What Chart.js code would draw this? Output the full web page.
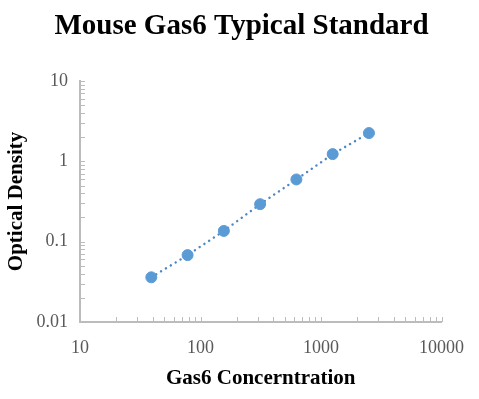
<!DOCTYPE html>
<html>
<head>
<meta charset="utf-8">
<script src="https://cdn.jsdelivr.net/npm/chart.js@4.4.0/dist/chart.umd.min.js"></script>
<style>
  html, body { margin: 0; padding: 0; background: #fff; }
  #wrap { width: 479px; height: 399px; }
</style>
</head>
<body>
<div id="wrap"><canvas id="chart"></canvas></div>
<script>
// Standard curve values
const concentrations = [39.06, 78.13, 156.25, 312.5, 625, 1250, 2500];
const opticalDensity = [0.036, 0.068, 0.136, 0.293, 0.595, 1.23, 2.25];

const xTicks = [10, 100, 1000, 10000];
const yTicks = [0.01, 0.1, 1, 10];
const yTickLabels = ['0.01', '0.1', '1', '10'];

const points = concentrations.map((c, i) => ({ x: c, y: opticalDensity[i] }));

const axisColor = '#bcbcbc';
const labelColor = '#595959';
const serif = '"Liberation Serif", "Times New Roman", serif';

// small inward ticks for each decade, like the original log axes
const minorTicks = {
  id: 'minorTicks',
  beforeDatasetsDraw(chart) {
    const { ctx, chartArea, scales: { x, y } } = chart;
    ctx.save();
    ctx.strokeStyle = axisColor;
    ctx.lineWidth = 1;
    ctx.beginPath();
    for (let d = 0; d < xTicks.length - 1; d++) {
      for (let m = 1; m <= 10; m++) {
        if (m === 1 && d > 0) continue;
        const px = Math.round(x.getPixelForValue(xTicks[d] * m)) + 0.5;
        ctx.moveTo(px, chartArea.bottom);
        ctx.lineTo(px, chartArea.bottom - 5);
      }
    }
    for (let d = 0; d < yTicks.length - 1; d++) {
      for (let m = 1; m <= 10; m++) {
        if (m === 1 && d > 0) continue;
        const py = Math.round(y.getPixelForValue(yTicks[d] * m)) + 0.5;
        ctx.moveTo(chartArea.left, py);
        ctx.lineTo(chartArea.left + 5, py);
      }
    }
    ctx.stroke();
    ctx.restore();
  }
};

new Chart(document.getElementById('chart'), {
  type: 'scatter',
  data: {
    datasets: [
      {
        label: 'Standard',
        data: points,
        backgroundColor: '#5b9bd5',
        borderColor: '#5b9bd5',
        pointRadius: 5.5,
        pointHoverRadius: 5.5,
        showLine: false,
        order: 1
      },
      {
        label: 'Trend',
        data: points,
        showLine: true,
        borderColor: '#4f87c4',
        borderWidth: 2.4,
        borderDash: [0.1, 5.6],
        borderCapStyle: 'round',
        pointRadius: 0,
        fill: false,
        order: 2
      }
    ]
  },
  options: {
    responsive: true,
    maintainAspectRatio: false,
    animation: false,
    layout: { padding: { left: 4, right: 0, top: 0, bottom: 0 } },
    plugins: {
      legend: { display: false },
      tooltip: { enabled: false },
      title: {
        display: true,
        text: 'Mouse Gas6 Typical Standard',
        color: '#000',
        font: { family: serif, size: 29, weight: 'bold' },
        padding: { top: 9.5, bottom: 36.7 }
      }
    },
    scales: {
      x: {
        type: 'logarithmic',
        min: 10,
        max: 10000,
        afterBuildTicks: (scale) => { scale.ticks = xTicks.map(v => ({ value: v })); },
        afterFit: (scale) => { scale.height = 77; },
        grid: { display: false, drawTicks: false },
        border: { display: true, color: axisColor, width: 2 },
        ticks: {
          color: labelColor,
          padding: 15,
          maxRotation: 0,
          autoSkip: false,
          font: { family: serif, size: 18 },
          callback: (v) => String(v)
        },
        title: {
          display: true,
          text: 'Gas6 Concerntration',
          color: '#000',
          font: { family: serif, size: 21, weight: 'bold' },
          padding: { top: 0, bottom: 8 }
        }
      },
      y: {
        type: 'logarithmic',
        min: 0.01,
        max: 10,
        afterBuildTicks: (scale) => { scale.ticks = yTicks.map(v => ({ value: v })); },
        afterFit: (scale) => { scale.width = 76; },
        grid: { display: false, drawTicks: false },
        border: { display: true, color: axisColor, width: 2 },
        ticks: {
          color: labelColor,
          padding: 12,
          autoSkip: false,
          font: { family: serif, size: 18 },
          callback: (v) => yTickLabels[yTicks.indexOf(v)] ?? ''
        },
        title: {
          display: true,
          text: 'Optical Density',
          color: '#000',
          font: { family: serif, size: 21, weight: 'bold' },
          padding: { top: 0, bottom: 0 }
        }
      },
      // empty right margin so the plot ends where the original does
      gap: {
        type: 'linear',
        position: 'right',
        display: true,
        afterFit: (scale) => { scale.width = 31; },
        grid: { display: false, drawTicks: false },
        border: { display: false },
        ticks: { display: false }
      }
    }
  },
  plugins: [minorTicks]
});
</script>
</body>
</html>
